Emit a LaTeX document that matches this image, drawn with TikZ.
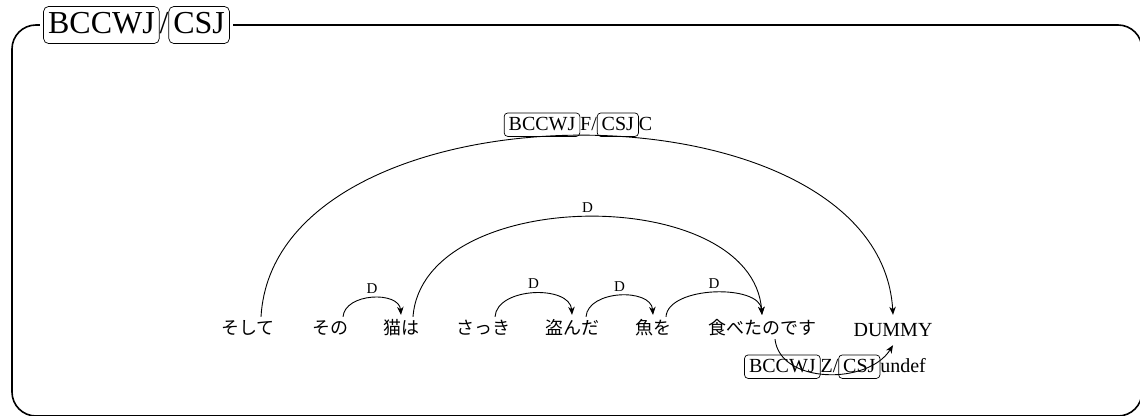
\documentclass[tikz,border=0pt]{standalone}
\usepackage{fontspec}
\setmainfont{Liberation Serif}
\newfontfamily\jp{Noto Sans CJK JP}
\usetikzlibrary{arrows.meta}

\tikzset{
  frame/.style={line width=1.6pt, rounded corners=24pt},
  word/.style={anchor=base, inner sep=2pt, text height=15pt, text depth=3pt,
               font=\jp\fontsize{18}{20}\selectfont},
  latinword/.style={anchor=base, inner sep=2pt, text height=17pt, text depth=3pt,
               font=\fontsize{20}{22}\selectfont},
  deparc/.style={line width=0.9pt, -{Stealth[length=8pt,width=6.5pt,inset=2.5pt]}},
  rel/.style={font=\fontsize{15}{17}\selectfont, inner sep=2pt, above=2pt},
  tagbox/.style={draw, line width=0.7pt, rounded corners=3.5pt, inner xsep=4.5pt,
                 inner ysep=2pt, text height=0.75em, text depth=0.22em},
  bigtag/.style={inner xsep=4.5pt, inner ysep=3pt, rounded corners=5pt},
  taglabel/.style={font=\fontsize{20}{22}\selectfont, inner sep=0pt, anchor=base},
}

% a word inside a rounded frame, sitting on the text baseline
\newcommand\tagged[2][]{\tikz[baseline=(tb.base)]\node[tagbox,#1](tb){#2};}

\begin{document}
\begin{tikzpicture}[x=1pt,y=-1pt]
\useasboundingbox (0,0) rectangle (1140,415);

% outer frame with its title on the top edge
\draw[frame] (12,25) rectangle (1142,416);
\node[fill=white, inner xsep=3pt, inner ysep=0pt, font=\fontsize{32}{36}\selectfont]
  (title) at (136.5,25) {\tagged[bigtag]{BCCWJ}/\tagged[bigtag]{CSJ}};

% the words of the sentence
\node[word] (w1) at (248,334) {そして};
\node[word] (w2) at (330,334) {その};
\node[word] (w3) at (401,334) {猫は};
\node[word] (w4) at (483,334) {さっき};
\node[word] (w5) at (572,334) {盗んだ};
\node[word] (w6) at (653,334) {魚を};
\node[word] (w7) at (762,334) {食べたのです};
\node[latinword] (w8) at (893,336) {DUMMY};

% dependency arcs: each leaves its head word a little right of centre
\draw[deparc] ([xshift=13pt]w2.north) .. controls +(2,-24) and +(-2,-24) .. ([yshift=2pt]w3.north)
  node[rel, midway] {D};
\draw[deparc] ([xshift=12pt]w3.north) .. controls +(10,-132) and +(-10,-132) .. ([yshift=2pt]w7.north)
  node[rel, midway] {D};
\draw[deparc] ([xshift=12pt]w4.north) .. controls +(2,-30) and +(-2,-30) .. ([yshift=2pt]w5.north)
  node[rel, midway] {D};
\draw[deparc] ([xshift=14pt]w5.north) .. controls +(2,-27) and +(-2,-27) .. ([yshift=2pt]w6.north)
  node[rel, midway] {D};
\draw[deparc] ([xshift=13pt]w6.north) .. controls +(2,-31) and +(-2,-31) .. ([yshift=2pt]w7.north)
  node[rel, midway] {D};
\draw[deparc] ([xshift=13pt]w1.north) .. controls +(14,-240) and +(-14,-240) .. ([yshift=2pt]w8.north);
\draw[deparc] ([xshift=13pt]w7.south) .. controls +(5,45) and +(-25,40) .. ([yshift=-4pt]w8.south);

% labels of the two long arcs
\node[taglabel] (lab1) at (578,130) {\tagged{BCCWJ}F/\tagged{CSJ}C};
\node[taglabel] (lab2) at (835,372) {\tagged{BCCWJ}Z/\tagged{CSJ}undef};
\end{tikzpicture}
\end{document}
